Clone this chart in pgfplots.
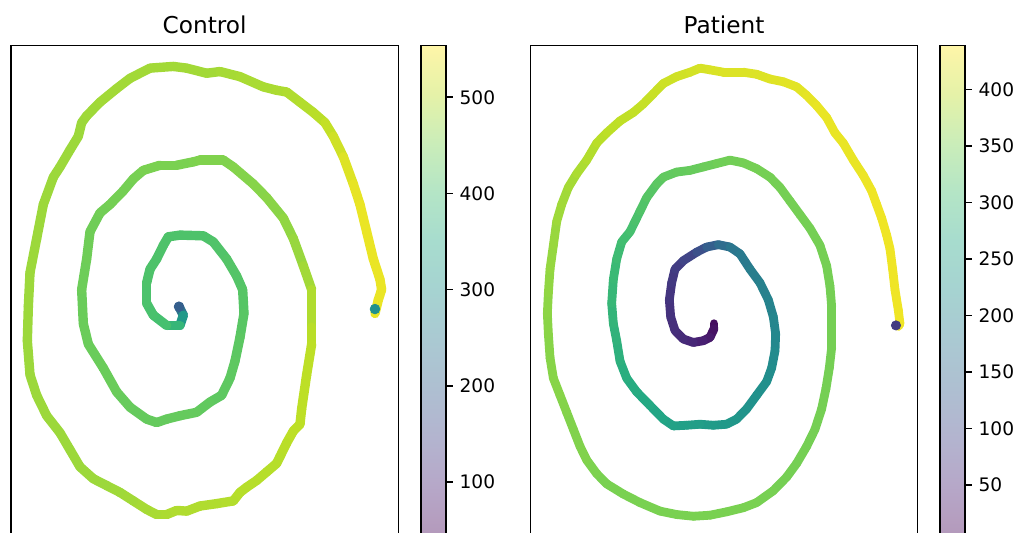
\documentclass[border=0pt]{standalone}
\usepackage{fontspec}
\setmainfont{DejaVu Sans}
\usepackage{pgfplots}
\pgfplotsset{compat=1.18}
\pgfplotsset{
  colormap={palevir}{rgb255=(180,153,187) rgb255=(182,167,200) rgb255=(179,180,207) rgb255=(174,191,209) rgb255=(170,201,210) rgb255=(166,211,209) rgb255=(167,220,206) rgb255=(180,229,198) rgb255=(202,237,185) rgb255=(229,242,168) rgb255=(254,245,168)},
  colormap={vir}{rgb255=(68,1,84) rgb255=(72,36,117) rgb255=(65,68,135) rgb255=(53,95,141) rgb255=(42,120,142) rgb255=(33,145,140) rgb255=(34,168,132) rgb255=(68,191,112) rgb255=(122,209,81) rgb255=(189,223,38) rgb255=(253,231,37)},
  spiral/.style={
    scale only axis, y dir=reverse, xtick=\empty, ytick=\empty,
    axis line style={line width=0.75pt},
    colormap name=vir, colorbar,
    colorbar style={colormap name=palevir, width=12.4pt,
      at={(parent axis.north east)}, anchor=north west, xshift=2.9pt,
      ytick pos=right, yticklabel pos=right, tick align=outside, major tick length=3.3pt,
      tick style={line width=0.75pt, black},
      yticklabel style={font=\fontsize{9.3}{11}\selectfont},
      axis line style={line width=0.75pt},
      /pgf/number format/assume math mode=true},
    title style={font=\fontsize{11.6}{14}\selectfont, at={(0.5,1)}, anchor=base, yshift=-0.35pt},
    /pgf/number format/assume math mode=true,
  },
}
\begin{document}
\begin{tikzpicture}
\begin{axis}[spiral, at={(5.5pt,-22.65pt)}, anchor=north west,
  width=193.65pt, height=245.35pt, xmin=33, xmax=1195, ymin=133, ymax=1573,
  point meta min=44, point meta max=554, title={Control},
  colorbar style={ytick={100,200,300,400,500}}]
\addplot[mesh, point meta=explicit, line width=4.7pt, line cap=round, line join=round] table[x=x, y=y, meta=c] {
x y c
537 900 197
550 925 274
540 955 360
500 955 401
460 925 406
440 890 406
440 830 411
450 790 411
470 760 411
490 720 411
505 695 411
540 690 411
610 692 411
640 710 411
680 760 416
710 810 416
728 850 416
732 920 421
720 990 421
705 1060 426
690 1110 426
665 1160 426
630 1180 426
590 1210 432
540 1220 432
500 1230 432
470 1240 432
440 1230 432
390 1195 432
350 1150 437
310 1080 437
265 1010 437
250 950 437
245 850 437
260 760 442
270 680 442
300 625 442
330 600 447
370 560 447
400 525 447
430 500 452
480 485 452
530 485 452
580 475 452
600 470 457
670 470 457
700 490 457
760 540 462
800 580 462
850 640 467
880 700 472
910 780 478
935 850 488
935 960 498
935 1010 503
920 1100 503
905 1200 503
900 1245 503
880 1265 503
860 1300 503
840 1340 498
830 1360 498
800 1385 498
770 1410 498
740 1430 498
720 1445 498
700 1470 498
650 1478 493
600 1485 493
560 1500 493
530 1498 493
500 1510 493
470 1510 488
440 1495 488
400 1470 483
360 1445 483
320 1425 478
280 1405 478
240 1370 478
210 1320 478
180 1270 478
140 1220 478
110 1160 478
90 1100 478
82 1000 478
85 900 478
90 800 478
110 700 478
130 600 478
160 520 478
180 490 478
210 440 478
235 400 478
245 360 478
260 340 478
300 300 483
350 260 483
390 230 483
450 200 483
520 195 483
560 200 483
620 215 483
660 210 483
720 225 488
790 255 488
830 265 488
860 270 493
900 300 493
940 330 498
975 360 503
1000 400 513
1030 460 523
1060 540 534
1080 600 539
1100 680 539
1120 760 539
1140 820 539
1145 850 539
1135 880 539
1125 920 539
};
\addplot[scatter, only marks, point meta=explicit, mark=*, mark size=2.4pt,
  scatter/use mapped color={draw=mapped color, fill=mapped color}] coordinates {(537,900) [197] (1125,907) [299]};
\end{axis}
\begin{axis}[spiral, at={(265.35pt,-22.65pt)}, anchor=north west,
  width=193.3pt, height=245.35pt, xmin=62, xmax=1222, ymin=133, ymax=1573,
  point meta min=5, point meta max=439, title={Patient},
  colorbar style={ytick={50,100,150,200,250,300,350,400}}]
\addplot[mesh, point meta=explicit, line width=4.4pt, line cap=round, line join=round] table[x=x, y=y, meta=c] {
x y c
612 950 18
612 965 22
600 990 31
580 1000 40
550 1005 48
520 995 57
495 970 61
482 930 66
478 880 70
485 830 74
495 790 79
520 765 87
560 740 100
590 725 122
625 718 148
660 725 170
690 745 179
720 790 187
750 830 192
775 880 196
790 930 200
797 980 205
795 1030 209
785 1080 213
770 1120 218
740 1160 222
710 1200 226
680 1230 231
650 1245 235
610 1248 239
570 1245 244
530 1248 248
490 1250 252
460 1230 257
420 1190 265
380 1150 270
350 1110 274
330 1060 278
320 1000 283
310 950 287
305 890 291
310 820 296
320 760 300
335 710 304
360 680 309
375 650 313
390 620 317
410 580 322
440 540 326
460 520 331
500 505 335
540 500 335
580 490 339
620 480 344
660 470 344
700 478 348
740 495 348
780 520 348
810 550 348
840 590 348
870 630 348
900 670 348
930 720 348
950 780 348
960 840 348
965 900 348
965 960 348
965 1020 348
958 1080 348
948 1140 348
935 1200 348
915 1260 348
890 1310 348
860 1360 348
830 1400 348
790 1440 348
740 1475 352
700 1490 352
650 1502 352
600 1512 352
550 1515 352
500 1510 352
450 1500 352
390 1475 352
340 1450 352
290 1420 352
260 1390 352
230 1350 357
210 1310 357
190 1260 357
170 1210 357
150 1160 361
130 1110 361
120 1050 361
115 980 361
112 920 365
115 860 365
120 790 370
130 720 370
140 650 374
155 600 378
175 550 378
200 510 383
230 470 387
260 420 391
290 390 396
330 355 396
370 330 400
400 305 400
430 275 404
460 245 404
500 225 409
540 212 409
570 200 413
600 205 413
640 212 417
700 212 417
740 218 417
780 232 417
820 240 421
860 255 421
890 280 421
920 310 426
950 345 426
975 390 426
1000 420 426
1030 470 426
1060 515 426
1085 560 430
1100 600 430
1115 640 430
1130 690 430
1140 730 430
1148 790 430
1155 850 430
1165 910 430
1170 950 430
1165 958 430
};
\addplot[scatter, only marks, point meta=explicit, mark=*, mark size=2.3pt,
  scatter/use mapped color={draw=mapped color, fill=mapped color}] coordinates {(1158,955) [79]};
\end{axis}
\pgfresetboundingbox
\useasboundingbox (0pt,0pt) rectangle (509.5pt,-266.5pt);
\end{tikzpicture}
\end{document}
